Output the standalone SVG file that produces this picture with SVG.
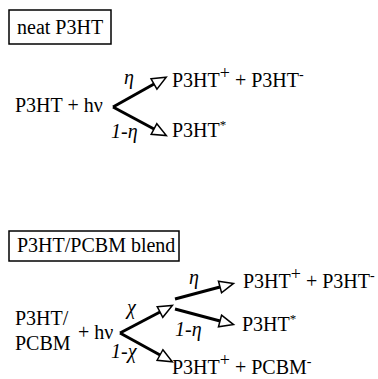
<svg xmlns="http://www.w3.org/2000/svg" width="378" height="379" viewBox="0 0 378 379">
<defs>
<style>
text{font-family:'Liberation Serif','Times New Roman',Times,'DejaVu Serif',serif;font-size:20px;fill:#000}
.it{font-style:italic}
.box{fill:none;stroke:#000;stroke-width:1.5}
.edge{stroke:#000;stroke-width:3;fill:none;marker-end:url(#tri)}
</style>
<marker id="tri" viewBox="-2 -8 18 16" markerWidth="18" markerHeight="16" refX="0" refY="0" orient="auto" markerUnits="userSpaceOnUse">
<path d="M0,-6 L14,0 L0,6 Z" fill="#fff" stroke="#000" stroke-width="1.5" stroke-linejoin="miter"/>
</marker>
</defs>
<rect width="378" height="379" fill="#fff"/>
<g font-family="Liberation Serif, Times New Roman, serif">
<g id="title-neat">
<rect class="box" x="9" y="10" width="102" height="34"/>
<text x="17" y="34">neat P3HT</text>
</g>
<g id="neat-start"><text x="15" y="112">P3HT + hν</text></g>
<g id="neat-ions"><text x="172" y="87">P3HT<tspan dy="-8" font-size="18">+</tspan><tspan dy="8"> + P3HT</tspan><tspan dy="-8" font-size="14">-</tspan></text></g>
<g id="neat-exciton"><text x="172" y="137">P3HT<tspan dy="-8" font-size="13">*</tspan></text></g>

<g id="title-blend">
<rect class="box" x="9" y="231" width="170" height="30"/>
<text x="17" y="252">P3HT/PCBM blend</text>
</g>
<g id="blend-start">
<text x="15" y="325">P3HT/</text>
<text x="15" y="350">PCBM</text>
<text x="78" y="339">+ hν</text>
</g>
<g id="blend-ions"><text x="243" y="288">P3HT<tspan dy="-8" font-size="18">+</tspan><tspan dy="8"> + P3HT</tspan><tspan dy="-8" font-size="14">-</tspan></text></g>
<g id="blend-exciton"><text x="242" y="331">P3HT<tspan dy="-8" font-size="13">*</tspan></text></g>
<g id="blend-ct"><text x="172" y="374">P3HT<tspan dy="-8" font-size="18">+</tspan><tspan dy="8"> + PCBM</tspan><tspan dy="-8" font-size="14">-</tspan></text></g>

<g id="connectors">
<line class="edge" x1="113" y1="107" x2="154" y2="84"/>
<line class="edge" x1="113" y1="107" x2="154" y2="129"/>
<text class="it" x="124" y="84">η</text>
<text class="it" x="111" y="138">1-η</text>

<line class="edge" x1="120" y1="333" x2="160" y2="312"/>
<line class="edge" x1="120" y1="333" x2="160" y2="355"/>
<line class="edge" x1="175" y1="299" x2="220" y2="287"/>
<line class="edge" x1="175" y1="309" x2="220" y2="321"/>
<text class="it" x="127" y="314">χ</text>
<text class="it" x="111" y="358">1-χ</text>
<text class="it" x="189" y="284">η</text>
<text class="it" x="175" y="336">1-η</text>
</g>
</g>
</svg>
